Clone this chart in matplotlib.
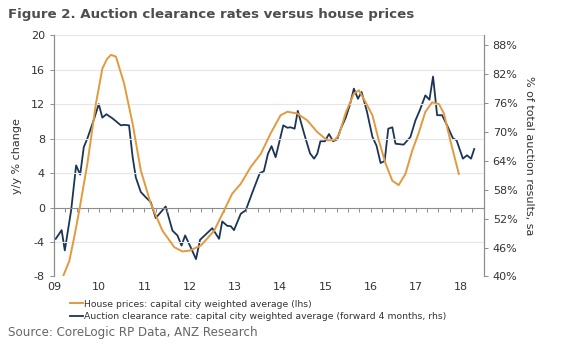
import matplotlib
matplotlib.use("Agg")
import matplotlib.pyplot as plt

plt.rcParams["axes.unicode_minus"] = False

# house prices, y/y % change (lhs)
hp_t = [2009.20, 2009.34, 2009.45, 2009.56, 2009.74, 2009.93, 2010.07, 2010.17, 2010.26,
        2010.37, 2010.55, 2010.74, 2010.92, 2011.14, 2011.40, 2011.66, 2011.84, 2012.00,
        2012.25, 2012.54, 2012.76, 2012.94, 2013.13, 2013.35, 2013.57, 2013.79, 2014.01,
        2014.16, 2014.38, 2014.60, 2014.82, 2015.04, 2015.20, 2015.30, 2015.45, 2015.63,
        2015.74, 2015.89, 2016.04, 2016.18, 2016.33, 2016.48, 2016.62, 2016.77, 2016.92,
        2017.06, 2017.21, 2017.36, 2017.51, 2017.62, 2017.76, 2017.95]
hp_v = [-8.0, -6.2, -3.4, -0.35, 5.1, 12.1, 16.1, 17.2, 17.7,
        17.5, 14.4, 9.7, 4.3, 0.45, -2.7, -4.6, -5.1, -5.0,
        -4.4, -2.7, -0.35, 1.6, 2.75, 4.7, 6.2, 8.6, 10.7,
        11.1, 10.9, 10.1, 8.75, 7.8, 7.8, 8.4, 11.0, 13.2,
        13.6, 12.2, 10.7, 7.8, 5.1, 3.1, 2.6, 3.9, 6.6,
        8.6, 11.1, 12.2, 12.0, 10.9, 7.8, 3.9]

# auction clearance rate, % (rhs, forward 4 months)
ac_t = [2009.04, 2009.17, 2009.24, 2009.38, 2009.49, 2009.58, 2009.66, 2009.74, 2009.89,
        2009.99, 2010.07, 2010.16, 2010.30, 2010.48, 2010.55, 2010.66, 2010.74, 2010.81,
        2010.92, 2011.03, 2011.14, 2011.25, 2011.47, 2011.62, 2011.73, 2011.82, 2011.90,
        2012.02, 2012.14, 2012.23, 2012.36, 2012.50, 2012.65, 2012.72, 2012.83, 2012.91,
        2012.98, 2013.13, 2013.24, 2013.39, 2013.55, 2013.64, 2013.73, 2013.81, 2013.90,
        2014.07, 2014.16, 2014.23, 2014.32, 2014.39, 2014.53, 2014.66, 2014.75, 2014.82,
        2014.89, 2014.99, 2015.08, 2015.17, 2015.26, 2015.34, 2015.45, 2015.54, 2015.63,
        2015.72, 2015.80, 2015.92, 2016.04, 2016.13, 2016.22, 2016.31, 2016.39, 2016.48,
        2016.55, 2016.73, 2016.88, 2016.99, 2017.09, 2017.21, 2017.30, 2017.38, 2017.47,
        2017.58, 2017.69, 2017.82, 2017.90, 2018.04, 2018.13, 2018.22, 2018.29]
ac_v = [47.8, 49.6, 45.4, 53.7, 63.0, 61.1, 66.8, 68.6, 72.7,
        75.7, 72.9, 73.6, 72.7, 71.3, 71.4, 71.3, 64.7, 60.5,
        57.5, 56.4, 55.4, 52.1, 54.5, 49.5, 48.5, 46.4, 48.5,
        46.1, 43.6, 47.6, 48.75, 50.0, 47.8, 51.4, 50.5, 50.4,
        49.6, 53.0, 53.7, 57.5, 61.4, 61.8, 65.4, 67.0, 64.7,
        71.3, 70.8, 70.9, 70.6, 74.3, 69.6, 65.5, 64.4, 65.4,
        68.0, 68.0, 69.5, 68.0, 68.4, 70.6, 72.9, 75.5, 78.9,
        76.8, 78.2, 74.1, 68.9, 67.1, 63.5, 63.9, 70.6, 70.9,
        67.5, 67.3, 68.9, 72.3, 74.5, 77.5, 76.6, 81.4, 73.4,
        73.4, 71.3, 68.6, 68.2, 64.4, 65.1, 64.4, 66.4]

years = list(range(2009, 2019))
year_labels = ["09", "10", "11", "12", "13", "14", "15", "16", "17", "18"]
left_ticks = [-8, -4, 0, 4, 8, 12, 16, 20]
right_ticks = [40, 46, 52, 58, 64, 70, 76, 82, 88]

orange = "#E39A3E"
navy = "#1C3557"
txt = "#333333"

fig = plt.figure(figsize=(5.8, 3.52), dpi=100)
ax = fig.add_axes([0.093, 0.2145, 0.741, 0.686])
ax2 = ax.twinx()

for y in left_ticks:
    if y != 0:
        ax.axhline(y, color="#e6e6e6", lw=0.8, zorder=0)
ax.axhline(0, color="#8c8c8c", lw=0.8, zorder=1)
quarters = [2009 + q / 4 for q in range(1, 38)]
ax.plot(quarters, [0] * len(quarters), ls="none", marker=3, ms=3,
        mew=0.7, color="#8c8c8c", zorder=1)

ln1, = ax.plot(hp_t, hp_v, color=orange, lw=1.4, zorder=3,
               label="House prices: capital city weighted average (lhs)")
ln2, = ax2.plot(ac_t, ac_v, color=navy, lw=1.3, zorder=4,
                label="Auction clearance rate: capital city weighted average (forward 4 months, rhs)")

ax.set_xlim(2009.0, 2018.5)
ax.set_ylim(-8, 20)
ax2.set_ylim(40, 90)
ax.set_yticks(left_ticks)
ax2.set_yticks(right_ticks)
ax2.set_yticklabels([f"{v}%" for v in right_ticks])
ax.set_xticks(years)
ax.set_xticklabels(year_labels)

for a in (ax, ax2):
    for s in ("top", "bottom"):
        a.spines[s].set_visible(False)
    a.spines["left"].set_color("#8c8c8c")
    a.spines["right"].set_color("#8c8c8c")
    a.spines["left"].set_linewidth(0.8)
    a.spines["right"].set_linewidth(0.8)
    a.tick_params(labelsize=8, colors=txt, length=3, width=0.7)
    a.tick_params(axis="y", color="#8c8c8c")
ax.tick_params(axis="x", length=0, pad=4)
ax.set_zorder(ax2.get_zorder() + 1)
ax.patch.set_visible(False)

ax.set_ylabel("y/y % change", fontsize=8, color=txt, labelpad=6)
ax2.set_ylabel("% of total auction results, sa", fontsize=8, color=txt,
               rotation=-90, labelpad=12)

fig.text(0.014, 0.958, "Figure 2. Auction clearance rates versus house prices",
         fontsize=9.6, fontweight="bold", color="#4d4d4d", va="center")
fig.legend(handles=[ln1, ln2], loc="upper left", bbox_to_anchor=(0.112, 0.162),
           frameon=False, fontsize=6.7, handlelength=1.4, handletextpad=0.1,
           labelspacing=0.4, borderpad=0, labelcolor=txt)
fig.text(0.014, 0.055, "Source: CoreLogic RP Data, ANZ Research",
         fontsize=8.6, color="#666666", va="center")

plt.savefig("out.png", dpi=100)
